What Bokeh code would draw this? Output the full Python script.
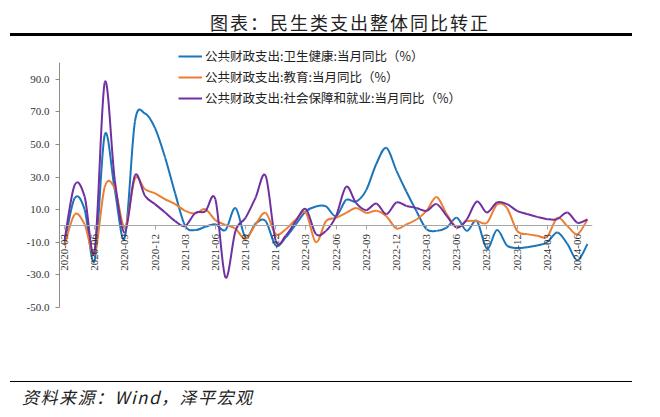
import math
from bokeh.plotting import figure
from bokeh.models import (FixedTicker, NumeralTickFormatter, LinearAxis, Range1d,
                          Legend, LegendItem, Div)
from bokeh.layouts import column
from bokeh.embed import file_html
from bokeh.resources import INLINE

# ---------------- data ----------------
months = [
    "2020-03", "2020-04", "2020-05", "2020-06", "2020-07", "2020-08", "2020-09", "2020-10", "2020-11", "2020-12",
    "2021-01", "2021-02", "2021-03", "2021-04", "2021-05", "2021-06", "2021-07", "2021-08", "2021-09", "2021-10",
    "2021-11", "2021-12", "2022-01", "2022-02", "2022-03", "2022-04", "2022-05", "2022-06", "2022-07", "2022-08",
    "2022-09", "2022-10", "2022-11", "2022-12", "2023-01", "2023-02", "2023-03", "2023-04", "2023-05", "2023-06",
    "2023-07", "2023-08", "2023-09", "2023-10", "2023-11", "2023-12", "2024-01", "2024-02", "2024-03", "2024-04",
    "2024-05", "2024-06", "2024-07",
]
health = [
    -11, 17, 10, -21, 56, 22, -7, 64, 69, 60,
    42, 20, 0, -2.5, -0.5, 1, -2.5, 11, -7, 1.5,
    3, -12, -7, 1, 9, 12, 12, 6, 16, 15,
    22, 38, 48, 34, 21, 9, -2, -3, -1, 5,
    -3, 3, -14, -2.5, -12, -13.5, -13, -12, -10, -4,
    -11, -21, -11,
]
education = [
    -12, 7, 1, -17, 24, 23, -1, 29, 22.5, 20,
    16.4, 13.4, 9.3, 7.7, 10.3, 3.6, 0.7, -1.7, -8, 1,
    8, -5, -2, 4, 8, -10, 3, 5, 8, 11,
    8, 9.3, 6, -1.5, 1, 4, 9.3, 17.8, 7.3, -0.5,
    3, 3, 2, 13, 11, -3, -5, -6, -6.5, 5,
    0, -5, 4,
]
social = [
    -9, 25, 18, -15, 88, 28, -4, 31, 18.5, 13.4,
    8.3, 3, 0, 8, 9, 16.4, -31.5, -3, 5, 17.4,
    30.7, -9, -6, 3, 10.3, -5, -3, 6, 24, 14,
    9.7, 13.8, 7.3, 14.4, 12.3, 11, 9.3, 13.4, 6.2, -1,
    4, 15, 8.3, 14.4, 13.4, 9.3, 7.3, 5.6, 4.2, 4.2,
    8.3, 2, 4,
]
tick_labels = ["2020-03", "2020-06", "2020-09", "2020-12", "2021-03", "2021-06", "2021-09", "2021-12",
               "2022-03", "2022-06", "2022-09", "2022-12", "2023-03", "2023-06", "2023-09", "2023-12",
               "2024-03", "2024-06"]
y_ticks = [-50, -30, -10, 10, 30, 50, 70, 90]
series_names = ["公共财政支出:卫生健康:当月同比（%）",
                "公共财政支出:教育:当月同比（%）",
                "公共财政支出:社会保障和就业:当月同比（%）"]
colors = ["#1B75BB", "#ED7D31", "#7030A0"]

title_text = "图表：民生类支出整体同比转正"
source_text = "资料来源：Wind，泽平宏观"

CJK = "Noto Sans CJK SC"
SERIF = "Liberation Serif"

# ---------------- figure ----------------
xs = list(range(len(months)))

p = figure(width=624, height=340,
           x_range=Range1d(-0.5, len(months) - 0.5), y_range=Range1d(-50, 110.7),
           output_backend="svg", toolbar_location=None,
           x_axis_location=None, y_axis_location="left",
           min_border_left=51, min_border_right=40, min_border_top=7, min_border_bottom=71)
p.outline_line_color = None
p.grid.grid_line_color = None
p.background_fill_color = "white"
p.border_fill_color = "white"

# y axis (line limited to -50 .. 100)
ya = p.yaxis[0]
ya.bounds = (-50, 100)
ya.ticker = FixedTicker(ticks=y_ticks)
ya.formatter = NumeralTickFormatter(format="0.0")
ya.axis_line_color = "#8c8c8c"
ya.major_tick_line_color = "#8c8c8c"
ya.major_tick_out = 4
ya.major_tick_in = 0
ya.minor_tick_line_color = None
ya.major_label_text_font = SERIF
ya.major_label_text_font_size = "11px"
ya.major_label_text_color = "#333333"
ya.major_label_standoff = 6

# x axis crossing at zero
tick_pos = [months.index(t) for t in tick_labels]
xa = LinearAxis(fixed_location=0)
xa.ticker = FixedTicker(ticks=tick_pos)
xa.major_label_overrides = {pos: lab for pos, lab in zip(tick_pos, tick_labels)}
xa.axis_line_color = "#a6a6a6"
xa.major_tick_line_color = "#a6a6a6"
xa.major_tick_out = 4
xa.major_tick_in = 0
xa.minor_tick_line_color = None
xa.major_label_orientation = math.pi / 2
xa.major_label_text_font = SERIF
xa.major_label_text_font_size = "11px"
xa.major_label_text_color = "#333333"
xa.major_label_standoff = 4
p.add_layout(xa, "below")


def bezier_source(xv, yv):
    n = len(xv)
    d = dict(x0=[], y0=[], x1=[], y1=[], cx0=[], cy0=[], cx1=[], cy1=[])
    for i in range(n - 1):
        a = max(i - 1, 0)
        b = min(i + 2, n - 1)
        d["x0"].append(xv[i]); d["y0"].append(yv[i])
        d["x1"].append(xv[i + 1]); d["y1"].append(yv[i + 1])
        d["cx0"].append(xv[i] + (xv[i + 1] - xv[a]) / 6.0)
        d["cy0"].append(yv[i] + (yv[i + 1] - yv[a]) / 6.0)
        d["cx1"].append(xv[i + 1] - (xv[b] - xv[i]) / 6.0)
        d["cy1"].append(yv[i + 1] - (yv[b] - yv[i]) / 6.0)
    return d


items = []
for name, ys, col in zip(series_names, [health, education, social], colors):
    src = bezier_source(xs, ys)
    r = p.bezier(x0="x0", y0="y0", x1="x1", y1="y1", cx0="cx0", cy0="cy0", cx1="cx1", cy1="cy1",
                 source=src, line_color=col, line_width=2)
    items.append(LegendItem(label=name, renderers=[r]))

legend = Legend(items=items, location=(119, 200), orientation="vertical",
                padding=0, margin=0, spacing=2, glyph_width=24, glyph_height=16,
                label_height=16, label_standoff=3,
                label_text_font=CJK, label_text_font_size="12.5px", label_text_color="#222222",
                border_line_color=None, background_fill_alpha=0)
p.add_layout(legend, "center")

# ---------------- title / footer ----------------
title_div = Div(
    text=('<div style="width:622px;margin-left:2px;">'
          '<div style="height:25px;box-sizing:border-box;padding-top:3px;padding-left:200px;'
          "font-family:'Noto Sans CJK SC';font-size:18px;line-height:22px;letter-spacing:2px;"
          'color:#222;white-space:nowrap;">' + title_text + '</div>'
          '<div style="height:3px;background:#000;"></div></div>'),
    width=624, height=30, margin=(0, 0, 0, 0))

footer_div = Div(
    text=('<div style="width:622px;margin-left:2px;margin-top:3px;box-sizing:border-box;'
          'border-top:1px solid #000;padding-top:5px;padding-left:12px;'
          "font-family:'Noto Sans CJK SC';font-size:17px;line-height:20px;font-style:italic;"
          'letter-spacing:1.5px;color:#222;white-space:nowrap;">' + source_text + '</div>'),
    width=624, height=31, margin=(0, 0, 0, 0))

layout = column(title_div, p, footer_div, spacing=0, margin=(8, 0, 0, 8))

open("out.html", "w").write(file_html(layout, INLINE))
